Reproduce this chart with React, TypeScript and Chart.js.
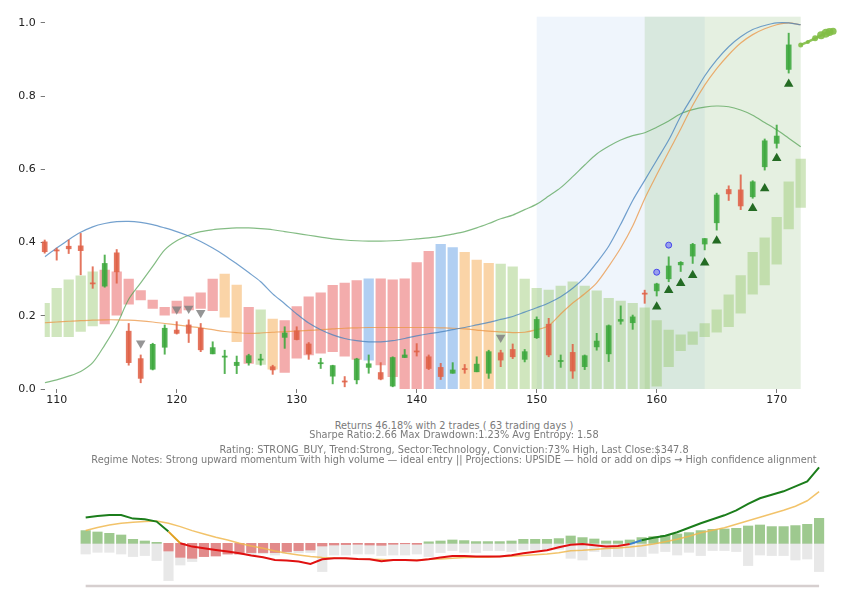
import React, { useEffect, useRef } from "react";
import { Chart, registerables } from "chart.js";
Chart.register(...registerables);

// ---------- main panel data ----------
const firstDay = 109;
const regimeLow = [0.143,0.143,0.143,0.157,0.172,0.178,0.202,0.232,0.243,0.220,0.202,0.207,0.216,0.220,0.214,0.196,0.129,0.070,0.067,0.054,0.045,0.084,0.093,0.098,0.102,0.090,0.081,0.079,0.066,0.034,0,0,0,0,0,0,0,0,0,0,0,0,0,0,0,0,0,0,0,0,0,0.008,0.061,0.105,0.122,0.143,0.155,0.170,0.207,0.259,0.284,0.341,0.437,0.496];
const regimeHigh = [0.234,0.275,0.298,0.309,0.320,0.325,0.320,0.300,0.269,0.243,0.223,0.240,0.252,0.263,0.300,0.314,0.284,0.223,0.216,0.191,0.187,0.225,0.252,0.263,0.283,0.289,0.296,0.301,0.301,0.298,0.301,0.345,0.376,0.395,0.386,0.373,0.352,0.343,0.341,0.334,0.300,0.275,0.270,0.281,0.293,0.281,0.268,0.248,0.240,0.234,0.222,0.187,0.161,0.148,0.156,0.179,0.216,0.257,0.310,0.373,0.413,0.469,0.566,0.628];
const regimeType = ["g","g","g","g","g","r","r","r","r","r","r","r","r","r","r","o","o","r","g","o","r","r","r","r","r","r","r","b","r","r","r","r","r","b","b","o","o","o","g","g","g","g","g","g","g","g","g","g","g","g","g","g","g","g","g","g","g","g","g","g","g","g","g","g"];

const candleOpen = [0.402,0.380,0.390,0.391,0.290,0.281,0.372,0.158,0.083,0.054,0.114,0.161,0.175,0.166,0.096,0.087,0.064,0.072,0.079,0.061,0.141,0.159,0.123,0.069,0.035,0.021,0.025,0.059,0.045,0.008,0.086,0.103,0.088,0.059,0.043,0.055,0.047,0.043,0.099,0.108,0.081,0.140,0.177,0.075,0.100,0.061,0.115,0.096,0.185,0.181,0.261,0.268,0.301,0.339,0.363,0.396,0.454,0.545,0.544,0.525,0.607,0.671,0.873];
const candleClose = [0.375,0.377,0.383,0.378,0.287,0.343,0.320,0.072,0.029,0.122,0.166,0.152,0.152,0.107,0.113,0.089,0.073,0.091,0.081,0.052,0.153,0.135,0.096,0.071,0.064,0.019,0.082,0.069,0.027,0.086,0.093,0.101,0.056,0.034,0.052,0.053,0.068,0.102,0.079,0.088,0.102,0.190,0.093,0.077,0.049,0.091,0.131,0.173,0.190,0.197,0.259,0.287,0.336,0.346,0.395,0.411,0.530,0.533,0.500,0.566,0.678,0.691,0.940];
const candleHigh = [0.407,0.385,0.407,0.425,0.334,0.366,0.381,0.179,0.093,0.125,0.175,0.184,0.189,0.179,0.129,0.106,0.090,0.095,0.095,0.065,0.170,0.170,0.127,0.084,0.065,0.034,0.084,0.093,0.072,0.088,0.108,0.124,0.093,0.070,0.072,0.067,0.088,0.106,0.106,0.123,0.108,0.197,0.193,0.093,0.122,0.093,0.152,0.175,0.227,0.202,0.270,0.289,0.361,0.348,0.398,0.411,0.535,0.555,0.585,0.569,0.683,0.721,0.972];
const candleLow = [0.371,0.352,0.370,0.312,0.275,0.278,0.289,0.065,0.017,0.052,0.095,0.150,0.127,0.102,0.096,0.042,0.042,0.065,0.065,0.040,0.111,0.134,0.081,0.056,0.014,0.006,0.014,0.043,0.025,0.006,0.086,0.090,0.053,0.026,0.043,0.043,0.047,0.029,0.061,0.083,0.074,0.138,0.088,0.059,0.029,0.053,0.106,0.075,0.177,0.163,0.234,0.254,0.293,0.321,0.343,0.380,0.434,0.515,0.490,0.521,0.598,0.658,0.863];

const blueLine = [0.361,0.385,0.408,0.428,0.443,0.452,0.457,0.458,0.455,0.449,0.440,0.430,0.418,0.403,0.385,0.365,0.342,0.318,0.293,0.260,0.233,0.205,0.180,0.162,0.148,0.138,0.132,0.129,0.129,0.132,0.138,0.145,0.151,0.156,0.162,0.168,0.175,0.182,0.190,0.198,0.210,0.222,0.235,0.252,0.275,0.305,0.345,0.390,0.450,0.515,0.570,0.625,0.680,0.745,0.800,0.855,0.899,0.935,0.962,0.982,0.993,1.000,1.000,0.995];
const orangeLine = [0.181,0.183,0.185,0.187,0.188,0.189,0.189,0.188,0.186,0.183,0.179,0.175,0.171,0.167,0.162,0.157,0.154,0.152,0.153,0.155,0.157,0.158,0.160,0.162,0.164,0.166,0.167,0.168,0.168,0.168,0.168,0.168,0.168,0.167,0.166,0.164,0.161,0.158,0.156,0.154,0.155,0.162,0.173,0.205,0.235,0.260,0.290,0.335,0.385,0.445,0.520,0.585,0.648,0.710,0.775,0.830,0.875,0.913,0.945,0.968,0.984,0.995,1.000,0.995];
const greenLine = [0.017,0.025,0.035,0.048,0.072,0.120,0.175,0.245,0.290,0.335,0.380,0.405,0.420,0.430,0.435,0.438,0.440,0.440,0.438,0.435,0.430,0.425,0.420,0.415,0.410,0.407,0.405,0.404,0.404,0.405,0.407,0.410,0.413,0.417,0.423,0.430,0.440,0.452,0.465,0.475,0.490,0.505,0.527,0.550,0.580,0.612,0.642,0.663,0.680,0.692,0.700,0.715,0.732,0.752,0.763,0.770,0.773,0.771,0.762,0.748,0.728,0.708,0.685,0.662];

const sellX = [117, 120, 121, 122, 147];
const sellY = [0.125, 0.218, 0.220, 0.208, 0.141];
const buyX = [160, 161, 162, 163, 164, 165, 168, 169, 170, 171];
const buyY = [0.225, 0.270, 0.289, 0.311, 0.345, 0.405, 0.494, 0.548, 0.630, 0.833];
const dotX = [160, 161];
const dotY = [0.319, 0.393];
const projX = [172, 172.6, 173.2, 173.7, 174.1, 174.4, 174.7];
const projY = [0.940, 0.948, 0.958, 0.966, 0.972, 0.975, 0.977];

const bandFrom = [150, 159];
const bandTo = [164, 172];
const xTicks = [110, 120, 130, 140, 150, 160, 170];
const yTicks = [0, 0.2, 0.4, 0.6, 0.8, 1.0];

// ---------- lower panel data ----------
const signalBars = [12.7,11.3,10,8.3,4,2.3,1,-7.7,-14,-15,-13.3,-12.7,-10.7,-10.7,-9.3,-9.3,-9.3,-8.3,-7.3,-6.7,-2.7,-1.7,-1.3,-1,-1.7,-2,-1,-0.5,-1,1.5,2.3,3.3,2.7,1.7,1.7,1.7,2.3,4,4,4,4.7,7.3,5.7,4.3,2.3,2.3,3.3,5.7,6.7,8,9.3,10.7,12.7,14,14.3,15,17.3,18.3,16.7,16.7,17.7,19,25];
const volumeBars = [-10.7,-9,-9,-10.7,-13.3,-12.3,-17.3,-37.3,-21.7,-18.3,-13.3,-12.7,-11,-11,-11.7,-10.5,-11.7,-10,-9.5,-9.3,-28.3,-11.7,-11.7,-10.7,-10.7,-12.3,-11.7,-11.7,-10.7,-13.3,-9.3,-7.3,-9,-9.3,-7.3,-7.3,-8.3,-6.7,-6.7,-6.7,-6,-15,-16.7,-8.3,-13.3,-13.3,-13.3,-13.3,-10,-8.3,-11.7,-9,-12.3,-7.3,-7.3,-8.3,-22.3,-11.7,-12.3,-12.3,-16.7,-15.7,-28.3];
const strengthLine = [25.7,27.3,28.3,28.3,24.7,24,21.7,11.7,0,-3.3,-5,-6.7,-8.3,-10,-12.3,-14,-16.7,-17.3,-18.3,-20.7,-16,-15,-15,-15.7,-16,-18,-16.7,-16.7,-17.3,-16,-14.3,-12.7,-12.7,-13.3,-13.3,-13.3,-12,-10,-8.5,-7,-4,-1.5,-0.7,-2,-3.3,-2.7,-0.8,3,5.5,7.5,11,15.5,20,24,28,33,39.5,45,48.5,52,57,62,76];
const trendLine = [12.7,15.7,18.3,20,21,21.7,22.3,20,16.7,12.7,9.3,6,3.3,0,-2.7,-5,-7.7,-10,-11.7,-13.3,-14.3,-14.7,-15.3,-15.7,-16,-16.2,-16.7,-16.7,-16.7,-16,-15.7,-15,-14.3,-14,-14,-13.3,-13,-12.3,-11.5,-10.7,-9.5,-7.5,-7,-6.2,-5.3,-4.6,-3.8,-2.5,-0.8,1.5,4,7,10.5,13,15.5,19,22.5,26,29.5,33,37,42.5,51.7];
const floorLevel = [-42.7];

const summaryLines = [
  "Returns 46.18% with 2 trades ( 63 trading days )",
  "Sharpe Ratio:2.66 Max Drawdown:1.23% Avg Entropy: 1.58",
  "Rating: STRONG_BUY, Trend:Strong, Sector:Technology, Conviction:73% High, Last Close:$347.8",
  "Regime Notes: Strong upward momentum with high volume \u2014 ideal entry || Projections: UPSIDE \u2014 hold or add on dips \u2192 High confidence alignment",
];
const summaryTops = [420, 429, 444, 454];

const regimeColors: Record<string, string> = {
  g: "rgba(150,200,110,0.45)",
  r: "rgba(232,90,90,0.5)",
  o: "rgba(245,170,80,0.5)",
  b: "rgba(100,160,230,0.5)",
};
const bandColors = ["rgba(120,170,230,0.12)", "rgba(110,170,90,0.18)"];
const UP = "rgba(62,168,62,0.88)";
const DOWN = "rgba(224,98,72,0.88)";

const bandPlugin = {
  id: "bands",
  beforeDatasetsDraw(chart: any) {
    const { ctx, chartArea, scales } = chart;
    const x = scales.x;
    ctx.save();
    bandFrom.forEach((f, i) => {
      const x0 = x.getPixelForValue(f);
      const x1 = x.getPixelForValue(bandTo[i]);
      ctx.fillStyle = bandColors[i];
      ctx.fillRect(x0, chartArea.top, x1 - x0, chartArea.bottom - chartArea.top);
    });
    ctx.restore();
  },
};

export default function App() {
  const mainRef = useRef<HTMLCanvasElement>(null);
  const subRef = useRef<HTMLCanvasElement>(null);

  useEffect(() => {
    const fontTick = { family: "'DejaVu Sans', sans-serif", size: 11 };
    const regimeDays = regimeLow.map((_, i) => firstDay + i);
    const candleDays = candleOpen.map((_, i) => firstDay + i);
    const candleColor = candleOpen.map((o, i) => (candleClose[i] >= o ? UP : DOWN));
    const line = (vals: number[], color: string) => ({
      type: "line" as const,
      data: vals.map((v, i) => ({ x: firstDay + i, y: v })),
      borderColor: color,
      borderWidth: 1.2,
      pointRadius: 0,
      tension: 0.3,
      order: 5,
    });

    const main = new Chart(mainRef.current!, {
      type: "bar",
      data: {
        datasets: [
          {
            type: "bar",
            data: regimeDays.map((d, i) => ({ x: d, y: [regimeLow[i], regimeHigh[i]] })) as any,
            backgroundColor: regimeType.map((t) => regimeColors[t]),
            barThickness: 9.6,
            grouped: false,
            order: 10,
          } as any,
          line(blueLine, "rgba(70,130,190,0.75)"),
          line(orangeLine, "rgba(235,150,70,0.75)"),
          line(greenLine, "rgba(80,160,80,0.7)"),
          {
            type: "bar",
            data: candleDays.map((d, i) => ({ x: d, y: [candleLow[i], candleHigh[i]] })) as any,
            backgroundColor: candleColor,
            barThickness: 1.3,
            grouped: false,
            clip: false,
            order: 3,
          } as any,
          {
            type: "bar",
            data: candleDays.map((d, i) => {
              const o = candleOpen[i], c = candleClose[i];
              const lo = Math.min(o, c), hi = Math.max(o, c);
              return { x: d, y: [lo, Math.max(hi, lo + 0.003)] };
            }) as any,
            backgroundColor: candleColor,
            barThickness: 5,
            grouped: false,
            clip: false,
            order: 2,
          } as any,
          {
            type: "scatter",
            data: sellX.map((x, i) => ({ x, y: sellY[i] })),
            pointStyle: "triangle",
            rotation: 180,
            pointRadius: 5.5,
            backgroundColor: "rgba(130,130,130,0.85)",
            borderColor: "rgba(130,130,130,0.85)",
            borderWidth: 0,
            order: 1,
          } as any,
          {
            type: "scatter",
            data: buyX.map((x, i) => ({ x, y: buyY[i] })),
            pointStyle: "triangle",
            pointRadius: 5.5,
            backgroundColor: "rgba(25,100,25,0.95)",
            borderColor: "rgba(25,100,25,0.95)",
            borderWidth: 0,
            order: 1,
          } as any,
          {
            type: "scatter",
            data: dotX.map((x, i) => ({ x, y: dotY[i] })),
            pointStyle: "circle",
            pointRadius: 3,
            backgroundColor: "rgba(110,110,245,0.6)",
            borderColor: "rgba(60,60,235,0.9)",
            borderWidth: 1,
            order: 1,
          } as any,
          {
            type: "line",
            data: projX.map((x, i) => ({ x, y: projY[i] })),
            borderColor: "rgba(130,190,70,0.9)",
            backgroundColor: "rgba(130,190,70,0.9)",
            borderWidth: 2.5,
            pointRadius: [2.5, 2, 3, 4, 4.5, 4, 3.5],
            pointBorderWidth: 0,
            clip: false,
            order: 1,
          } as any,
        ],
      },
      options: {
        animation: false,
        responsive: false,
        devicePixelRatio: 1,
        layout: { padding: { top: 16.7, right: 10.9, left: 0, bottom: 0 } },
        plugins: { legend: { display: false }, tooltip: { enabled: false } },
        scales: {
          x: {
            type: "linear",
            min: 109,
            max: 175.2,
            offset: false,
            grid: { display: true, drawOnChartArea: false, drawTicks: true, tickLength: 4, color: "#555", lineWidth: 0.8, offset: false },
            border: { display: false },
            ticks: { font: fontTick, color: "#222", padding: 1, maxRotation: 0 },
            afterBuildTicks: (s: any) => { s.ticks = xTicks.map((v) => ({ value: v })); },
            afterFit: (s: any) => { s.height = 21; },
          },
          y: {
            type: "linear",
            min: 0,
            max: 1.017,
            grid: { display: true, drawOnChartArea: false, drawTicks: true, tickLength: 4, color: "#555", lineWidth: 0.8 },
            border: { display: false },
            ticks: { font: fontTick, color: "#222", padding: 5, callback: (v: any) => Number(v).toFixed(1) },
            afterBuildTicks: (s: any) => { s.ticks = yTicks.map((v) => ({ value: v })); },
            afterFit: (s: any) => { s.width = 44.7; },
          },
        },
      } as any,
      plugins: [bandPlugin],
    });

    const subDays = signalBars.map((_, i) => firstDay + i);
    const segColor = (c: any) => {
      const a = c.p0.parsed.y, b = c.p1.parsed.y;
      if (a > 0 && b > 0) return "#1b7d1b";
      if (a > 0 && b <= 0) return "#e0a020";
      if (a <= 0 && b > 0) return "#3a80d0";
      return "#e01010";
    };
    const sub = new Chart(subRef.current!, {
      type: "bar",
      data: {
        datasets: [
          {
            type: "line",
            data: [
              { x: subDays[0], y: floorLevel[0] },
              { x: subDays[subDays.length - 1], y: floorLevel[0] },
            ],
            borderColor: "#d6cfcf",
            borderWidth: 2.5,
            pointRadius: 0,
            order: 4,
          } as any,
          {
            type: "line",
            data: strengthLine.map((v, i) => ({ x: subDays[i], y: v })),
            borderColor: "#1b7d1b",
            borderWidth: 2,
            pointRadius: 0,
            segment: { borderColor: segColor },
            order: 1,
          } as any,
          {
            type: "line",
            data: trendLine.map((v, i) => ({ x: subDays[i], y: v })),
            borderColor: "rgba(240,185,80,0.85)",
            borderWidth: 1.5,
            pointRadius: 0,
            order: 2,
          } as any,
          {
            type: "bar",
            data: signalBars.map((v, i) => ({ x: subDays[i], y: v })),
            backgroundColor: signalBars.map((v) => (v >= 0 ? "rgba(120,180,100,0.72)" : "rgba(220,60,60,0.55)")),
            barThickness: 9.5,
            grouped: false,
            order: 6,
          } as any,
          {
            type: "bar",
            data: volumeBars.map((v, i) => ({ x: subDays[i], y: v })),
            backgroundColor: "rgba(200,200,200,0.42)",
            barThickness: 9.5,
            grouped: false,
            order: 8,
          } as any,
        ],
      },
      options: {
        animation: false,
        responsive: false,
        devicePixelRatio: 1,
        layout: { padding: { left: 80, right: 25, top: 0, bottom: 0 } },
        plugins: { legend: { display: false }, tooltip: { enabled: false } },
        scales: {
          x: { type: "linear", min: 108.52, max: 171.5, offset: false, display: false, grid: { offset: false } },
          y: { type: "linear", min: -56.7, max: 83.3, display: false },
        },
      } as any,
    });

    return () => {
      main.destroy();
      sub.destroy();
    };
  }, []);

  return (
    <div style={{ position: "absolute", left: 0, top: 0, width: 850, height: 600, background: "#fff", overflow: "hidden" }}>
      <canvas ref={mainRef} width={850} height={410} style={{ position: "absolute", left: 0, top: 0 }} />
      <canvas ref={subRef} width={850} height={140} style={{ position: "absolute", left: 0, top: 460 }} />
      {summaryLines.map((t, i) => (
        <div
          key={i}
          style={{
            position: "absolute",
            left: 0,
            top: summaryTops[i],
            width: 850,
            boxSizing: "border-box",
            paddingLeft: 58,
            textAlign: "center",
            whiteSpace: "nowrap",
            fontFamily: "'DejaVu Sans', sans-serif",
            fontSize: 9.75,
            lineHeight: "11px",
            color: "#7a7a7a",
          }}
        >
          {t}
        </div>
      ))}
    </div>
  );
}
